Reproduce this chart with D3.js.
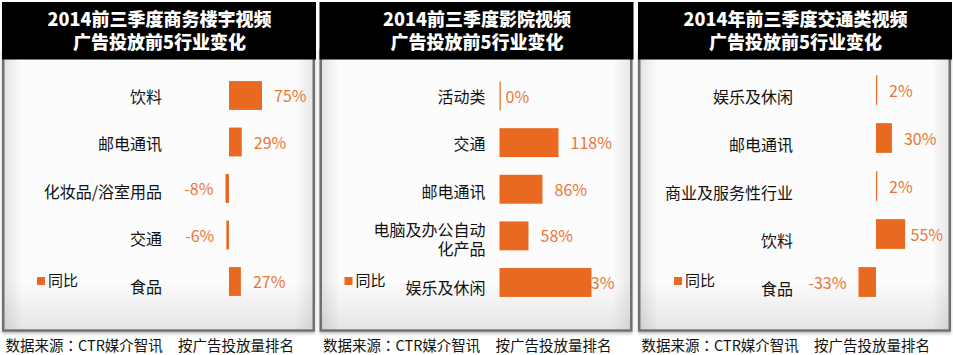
<!DOCTYPE html>
<html>
<head>
<meta charset="utf-8">
<script src="https://cdn.jsdelivr.net/npm/d3@7"></script>
<style>
  html, body { margin: 0; padding: 0; background: #fff; }
  svg text { font-family: "Noto Sans CJK SC", "Noto Sans", sans-serif; }
</style>
</head>
<body>
<div id="container"></div>
<script>
!function(){

  // data
  var titles = [
    ['2014前三季度商务楼宇视频', '广告投放前5行业变化'],
    ['2014前三季度影院视频', '广告投放前5行业变化'],
    ['2014年前三季度交通类视频', '广告投放前5行业变化']
  ];
  var catsOffice = ['饮料', '邮电通讯', '化妆品/浴室用品', '交通', '食品'];
  var valsOffice = [75, 29, -8, -6, 27];
  var catsCinema = ['活动类', '交通', '邮电通讯', '电脑及办公自动\n化产品', '娱乐及休闲'];
  var valsCinema = [0, 118, 86, 58, 233];
  var catsTraffic = ['娱乐及休闲', '邮电通讯', '商业及服务性行业', '饮料', '食品'];
  var valsTraffic = [2, 30, 2, 55, -33];
  var legendName = '同比';
  var sourceNote = '数据来源：CTR媒介智讯';
  var rankNote = '按广告投放量排名';

  var barColor = '#E8691F';
  var labelColor = '#EC7535';

  // per panel layout (pixels relative to panel left)
  var panels = [
    {cats: catsOffice, vals: valsOffice, left: 2, zero: 227, max: 100, span: 44,
      bars: [72.25, 304.75], labs: [97, 287], labRight: 160, legend: 35, plotRight: 305},
    {cats: catsCinema, vals: valsCinema, left: 319.5, zero: 180, max: 184, span: 92,
      bars: [72.7, 305.8], labs: [97, 288], labRight: 166, legend: 25, plotRight: 295},
    {cats: catsTraffic, vals: valsTraffic, left: 638, zero: 238, max: 100, span: 53,
      bars: [66, 306], labs: [97, 289], labRight: 155, legend: 36, plotRight: 305}
  ];
  var W = 313;

  var svg = d3.select('#container')
    .append('svg')
    .attr('width', 953)
    .attr('height', 355);

  var defs = svg.append('defs');
  var hg = defs.append('linearGradient').attr('id', 'hfade');
  hg.append('stop').attr('offset', '0').attr('stop-color', '#e2e2e2');
  hg.append('stop').attr('offset', '0.06').attr('stop-color', '#fcfcfc');
  hg.append('stop').attr('offset', '0.94').attr('stop-color', '#fcfcfc');
  hg.append('stop').attr('offset', '1').attr('stop-color', '#e6e6e6');
  var vg = defs.append('linearGradient').attr('id', 'vfade')
    .attr('x1', 0).attr('x2', 0).attr('y1', 0).attr('y2', 1);
  vg.append('stop').attr('offset', '0.82').attr('stop-color', '#000').attr('stop-opacity', 0);
  vg.append('stop').attr('offset', '1').attr('stop-color', '#000').attr('stop-opacity', 0.09);
  var sh = defs.append('filter').attr('id', 'shadow')
    .attr('x', '-5%').attr('y', '-5%').attr('width', '110%').attr('height', '115%');
  sh.append('feDropShadow').attr('dx', 0).attr('dy', 2).attr('stdDeviation', 1.6)
    .attr('flood-color', '#000').attr('flood-opacity', 0.25);

  panels.forEach(function(p, k){
    var g = svg.append('g')
      .attr('transform', 'translate(' + p.left + ',0)');

    // frame
    g.append('rect')
      .attr('x', 1.25).attr('y', 50)
      .attr('width', W - 2.5).attr('height', 280.5)
      .style('fill', 'url(#hfade)')
      .style('stroke', '#6f6f6f')
      .style('stroke-width', 2.5)
      .attr('filter', 'url(#shadow)');
    g.append('rect')
      .attr('x', 2.5).attr('y', 60)
      .attr('width', W - 5).attr('height', 269)
      .style('fill', 'url(#vfade)');

    // header
    g.append('rect')
      .attr('x', 0).attr('y', 2)
      .attr('width', W + 1).attr('height', 57.5)
      .style('fill', '#000');
    g.selectAll('.title')
      .data(titles[k])
      .enter()
      .append('text')
      .attr('class', 'title')
      .attr('x', W / 2 + 1)
      .attr('y', function(d, i){ return 20 + i * 23; })
      .attr('dy', '0.35em')
      .attr('text-anchor', 'middle')
      .style('font-size', '18px')
      .style('font-weight', 900)
      .style('fill', '#fff')
      .text(function(d){ return d; });

    var x = d3.scaleLinear()
      .domain([0, p.max])
      .range([p.zero, p.zero + p.span])
      .clamp(true);
    var y = d3.scaleBand()
      .domain(p.cats)
      .range(p.bars)
      .paddingInner(0.38)
      .paddingOuter(0.19);
    var yl = d3.scalePoint()
      .domain(p.cats)
      .range(p.labs);

    // category labels
    p.cats.forEach(function(c){
      var lines = c.split('\n');
      g.append('g')
        .selectAll('text')
        .data(lines)
        .enter()
        .append('text')
        .attr('x', p.labRight)
        .attr('y', function(d, i){ return yl(c) + (i - (lines.length - 1) / 2) * 19; })
        .attr('dy', '0.35em')
        .attr('text-anchor', 'end')
        .style('font-size', '16px')
        .style('fill', '#111')
        .text(function(d){ return d; });
    });

    // value labels (drawn under the bars, one gets covered in the source)
    var rows = p.cats.map(function(c, i){ return {cat: c, val: p.vals[i]}; });
    g.selectAll('.val')
      .data(rows)
      .enter()
      .append('text')
      .attr('class', 'val')
      .attr('y', function(d){ return y(d.cat) + y.bandwidth() / 2 + 1; })
      .attr('dy', '0.35em')
      .style('font-size', '16px')
      .style('fill', labelColor)
      .text(function(d){ return d.val + '%'; })
      .each(function(d){
        var t = d3.select(this);
        if (d.val < 0) {
          t.attr('x', p.zero + d.val * p.span / p.max - 12)
            .attr('text-anchor', 'end');
        } else {
          var sx = x(d.val) + (d.val === 0 ? 6 : 12);
          var w = this.getComputedTextLength();
          if (sx + w > p.plotRight) sx = p.plotRight - w;
          t.attr('x', sx).attr('text-anchor', 'start');
        }
      });

    // bars (negative values extend left of zero)
    g.selectAll('.bar')
      .data(rows)
      .enter()
      .append('rect')
      .attr('class', 'bar')
      .attr('x', function(d){
        return d.val < 0 ? p.zero + d.val * p.span / p.max : x(0);
      })
      .attr('y', function(d){ return y(d.cat); })
      .attr('width', function(d){
        var w = d.val < 0 ? -d.val * p.span / p.max : x(d.val) - x(0);
        return Math.max(1.2, w);
      })
      .attr('height', y.bandwidth())
      .style('fill', barColor);

    // legend
    g.append('rect')
      .attr('x', p.legend).attr('y', 277)
      .attr('width', 8).attr('height', 8)
      .style('fill', barColor);
    g.append('text')
      .attr('x', p.legend + 11)
      .attr('y', 281)
      .attr('dy', '0.35em')
      .style('font-size', '15px')
      .style('fill', '#111')
      .text(legendName);

    // footnote, the full-width colon taken from the TC font so it sits centred
    var parts = sourceNote.split('：');
    var src = g.append('text')
      .attr('x', 3.5).attr('y', 346)
      .attr('dy', '0.35em')
      .style('font-size', '14.5px')
      .style('fill', '#111');
    src.append('tspan').text(parts[0]);
    src.append('tspan').style('font-family', '"Noto Sans CJK TC"').text('：');
    src.append('tspan').text(parts[1]);
    g.append('text')
      .attr('x', 176).attr('y', 346)
      .attr('dy', '0.35em')
      .style('font-size', '14.5px')
      .style('fill', '#111')
      .text(rankNote);
  });
}();
</script>
</body>
</html>
